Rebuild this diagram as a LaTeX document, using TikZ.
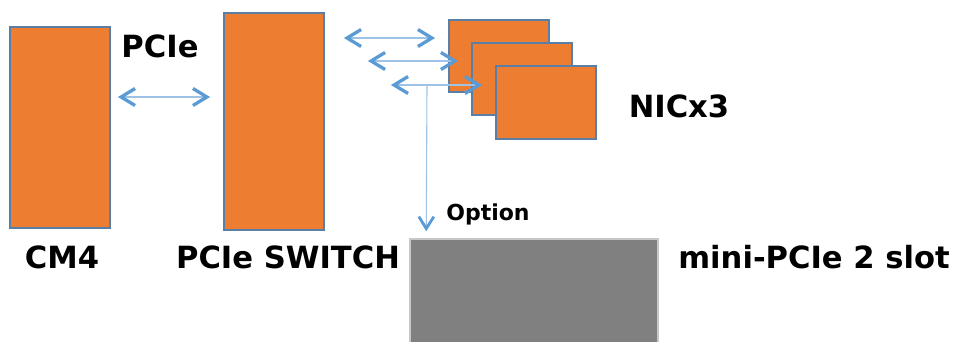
\documentclass[tikz,border=0pt]{standalone}
\usepackage{fontspec}
\setmainfont{DejaVu Sans}
\usetikzlibrary{arrows.meta}
\definecolor{boxorange}{HTML}{ED7D31}
\definecolor{boxedge}{HTML}{5A7FA6}
\definecolor{linkline}{HTML}{9DC3E6}
\definecolor{linkhead}{HTML}{5B9BD5}
\definecolor{slotgray}{HTML}{808080}
\definecolor{slotedge}{HTML}{C8C8C8}
\tikzset{
  orangebox/.style={draw=boxedge, line width=1.8pt, fill=boxorange, inner sep=0pt, anchor=center},
  slotbox/.style={draw=slotedge, line width=1.5pt, fill=slotgray, inner sep=0pt, anchor=center},
  biglabel/.style={font=\bfseries\fontsize{30.6}{36}\selectfont, inner sep=0pt, anchor=base},
  smalllabel/.style={font=\bfseries\fontsize{22}{26}\selectfont, inner sep=0pt, anchor=base},
  chev/.tip={Straight Barb[length=14pt,width=17pt,line width=3.3pt,color=linkhead]},
  dropchev/.tip={Straight Barb[length=12pt,width=15pt,line width=2.8pt,color=linkhead]},
  link/.style={draw=linkline, line width=1.4pt, chev-chev},
  droplink/.style={draw=linkline, line width=1.1pt, -dropchev}
}
\begin{document}
\begin{tikzpicture}[x=1pt,y=-1pt]
\useasboundingbox (0,0) rectangle (957,341);
% boxes
\node[orangebox, minimum width=100pt, minimum height=201pt] (cm4) at (60,127.5) {};
\node[orangebox, minimum width=100pt, minimum height=217pt] (sw) at (274,121.5) {};
\node[orangebox, minimum width=100pt, minimum height=72pt] (nic1) at (499,56) {};
\node[orangebox, minimum width=100pt, minimum height=72pt] (nic2) at (522,79) {};
\node[orangebox, minimum width=100pt, minimum height=73pt] (nic3) at (546,102.5) {};
\node[slotbox, minimum width=248pt, minimum height=104pt] (slot) at (534,291) {};
% labels
\node[biglabel] (lcm4) at (62,268) {CM4};
\node[biglabel] (lsw) at (288,268) {PCIe SWITCH};
\node[biglabel] (lpcie) at (160,57) {PCIe};
\node[biglabel] (lnic) at (679,117) {NICx3};
\node[biglabel] (lslot) at (814,268) {mini-PCIe 2 slot};
\node[smalllabel] (lopt) at (488,220) {Option};
% connectors
\draw[link] ([xshift=7pt,yshift=30.5pt]cm4.east) -- ([xshift=-13pt,yshift=24.5pt]sw.west);
\draw[link] ([xshift=19pt,yshift=18pt]sw.east |- nic1.west) -- ([xshift=-13pt,yshift=18pt]nic1.west);
\draw[link] ([xshift=43pt,yshift=18pt]sw.east |- nic2.west) -- ([xshift=-13pt,yshift=18pt]nic2.west);
\draw[link] ([xshift=66pt,yshift=17.5pt]sw.east |- nic3.west) -- ([xshift=-13pt,yshift=17.5pt]nic3.west);
\coordinate (tap) at (427,85);
\draw[droplink] (tap) -- ([xshift=17pt,yshift=7pt]slot.north west);
\end{tikzpicture}
\end{document}
